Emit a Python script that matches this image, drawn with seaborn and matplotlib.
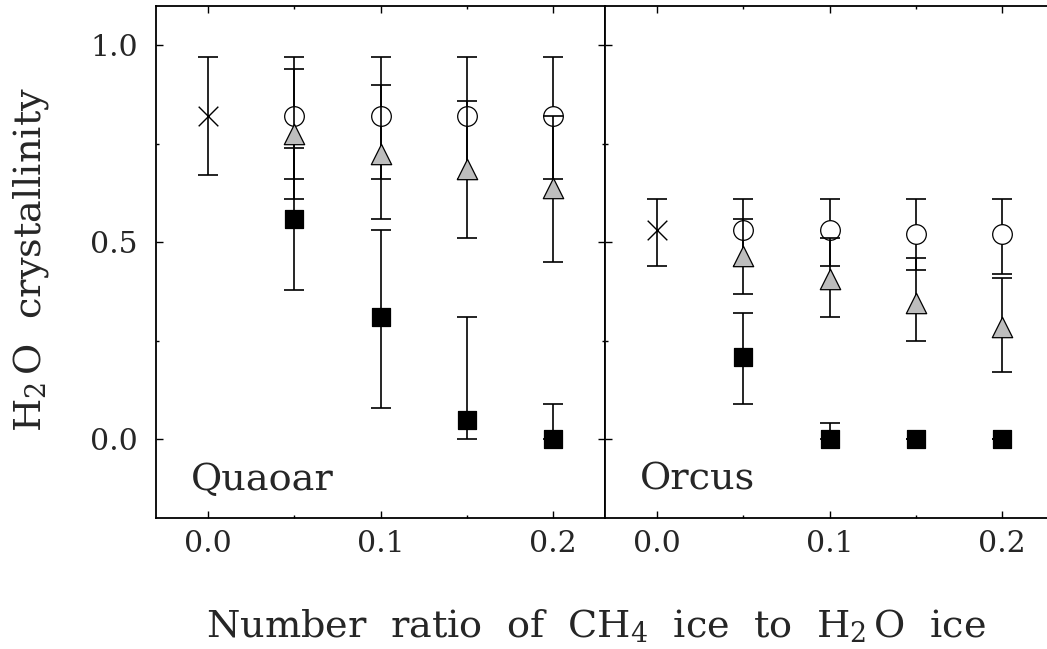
import numpy as np
import pandas as pd
import matplotlib
matplotlib.use("Agg")
import matplotlib.pyplot as plt
import seaborn as sns

# CH4 / H2O number ratio grid
ratio_ref = [0.0]
ratios = [0.05, 0.10, 0.15, 0.20]

# Quaoar: pure-H2O reference point (value, lower, upper)
q_ref = [0.82]
q_ref_lo = [0.67]
q_ref_hi = [0.97]
# Quaoar: three model series (value, lower bound, upper bound)
q_circ = [0.82, 0.82, 0.82, 0.82]
q_circ_lo = [0.66, 0.66, 0.66, 0.66]
q_circ_hi = [0.97, 0.97, 0.97, 0.97]
q_tri = [0.775, 0.725, 0.686, 0.637]
q_tri_lo = [0.61, 0.56, 0.51, 0.45]
q_tri_hi = [0.94, 0.90, 0.86, 0.82]
q_sq = [0.56, 0.31, 0.05, 0.0]
q_sq_lo = [0.38, 0.08, 0.0, 0.0]
q_sq_hi = [0.74, 0.53, 0.31, 0.09]

# Orcus
o_ref = [0.53]
o_ref_lo = [0.44]
o_ref_hi = [0.61]
o_circ = [0.53, 0.53, 0.52, 0.52]
o_circ_lo = [0.44, 0.44, 0.43, 0.42]
o_circ_hi = [0.61, 0.61, 0.61, 0.61]
o_tri = [0.466, 0.406, 0.346, 0.286]
o_tri_lo = [0.37, 0.31, 0.25, 0.17]
o_tri_hi = [0.56, 0.51, 0.46, 0.41]
o_sq = [0.21, 0.0, 0.0, 0.0]
o_sq_lo = [0.09, 0.0, 0.0, 0.0]
o_sq_hi = [0.32, 0.04, 0.0, 0.0]

x_ticks = [0.0, 0.05, 0.10, 0.15, 0.20]
x_labels = ["0.0", "", "0.1", "", "0.2"]
y_ticks = [0.0, 0.25, 0.5, 0.75, 1.0]
y_labels = ["0.0", "", "0.5", "", "1.0"]

sns.set_theme(style="ticks")
plt.rcParams["font.family"] = ["DejaVu Serif"]
plt.rcParams["mathtext.fontset"] = "dejavuserif"

W, H = 1047, 649
fig = plt.figure(figsize=(W / 100, H / 100), dpi=100)
fig.patch.set_facecolor("white")

ax_l, ax_w = 156 / W, 449 / W
ax_b, ax_h = (H - 518) / H, 512 / H
ax1 = fig.add_axes([ax_l, ax_b, ax_w, ax_h])
ax2 = fig.add_axes([ax_l + ax_w, ax_b, ax_w, ax_h])

LW = 1.2
CAP = 7.2


def draw_series(ax, x, y, lo, hi, marker, face, size, zo):
    y = np.asarray(y)
    err = np.vstack([y - np.asarray(lo), np.asarray(hi) - y])
    ax.errorbar(x, y, yerr=err, fmt="none", ecolor="black", elinewidth=LW,
                capsize=CAP, capthick=LW, zorder=zo)
    df = pd.DataFrame({"x": x, "y": y})
    if marker == "x":
        sns.scatterplot(data=df, x="x", y="y", marker="x", color="black",
                        s=size, linewidth=1.0, ax=ax, zorder=zo + 0.5,
                        legend=False)
    else:
        sns.scatterplot(data=df, x="x", y="y", marker=marker, color=face,
                        edgecolor="black", linewidth=0.9, s=size, ax=ax,
                        zorder=zo + 0.5, legend=False)


panels = [
    (ax1, "Quaoar", q_ref, q_ref_lo, q_ref_hi, q_circ, q_circ_lo, q_circ_hi,
     q_tri, q_tri_lo, q_tri_hi, q_sq, q_sq_lo, q_sq_hi),
    (ax2, "Orcus", o_ref, o_ref_lo, o_ref_hi, o_circ, o_circ_lo, o_circ_hi,
     o_tri, o_tri_lo, o_tri_hi, o_sq, o_sq_lo, o_sq_hi),
]

for (ax, name, r, r_lo, r_hi, c, c_lo, c_hi, t, t_lo, t_hi,
     s, s_lo, s_hi) in panels:
    draw_series(ax, ratio_ref, r, r_lo, r_hi, "x", "black", 200, 2)
    draw_series(ax, ratios, s, s_lo, s_hi, "s", "black", 175, 2)
    draw_series(ax, ratios, c, c_lo, c_hi, "o", "white", 200, 3)
    draw_series(ax, ratios, t, t_lo, t_hi, "^", "#bdbdbd", 215, 4)

    ax.set_xlim(-0.03, 0.23)
    ax.set_ylim(-0.2, 1.1)
    ax.set_xticks(x_ticks)
    ax.set_xticklabels(x_labels)
    ax.set_yticks(y_ticks)
    ax.set_yticklabels(y_labels)
    ax.set_xlabel("")
    ax.set_ylabel("")
    ax.tick_params(axis="both", which="major", direction="in", length=5,
                   width=1.0, top=True, right=True, labelsize=21.5,
                   color="black")
    ax.tick_params(axis="x", pad=9)
    ax.tick_params(axis="y", pad=13)
    for sp in ax.spines.values():
        sp.set_visible(True)
        sp.set_linewidth(1.3)
        sp.set_color("black")
    ax.set_facecolor("white")
    ax.text(0.077, 0.055, name, transform=ax.transAxes, fontsize=27.5,
            ha="left", va="baseline")

# shorter ticks at the half steps
for ax in (ax1, ax2):
    for i, tl in enumerate(ax.xaxis.get_major_ticks()):
        if x_labels[i] == "":
            tl.tick1line.set_markersize(2.5)
            tl.tick2line.set_markersize(2.5)
    for i, tl in enumerate(ax.yaxis.get_major_ticks()):
        if y_labels[i] == "":
            tl.tick1line.set_markersize(2.5)
            tl.tick2line.set_markersize(2.5)

ax2.tick_params(axis="y", labelleft=False)

fig.text(596 / W, (H - 637) / H,
         r"Number  ratio  of  CH$_4$  ice  to  H$_2\,$O  ice",
         fontsize=27.5, ha="center", va="baseline")
fig.text(31 / W, (H - 260) / H, r"H$_2\,$O  crystallinity", fontsize=27.5,
         rotation=90, ha="center", va="center")

fig.savefig("out.png", dpi=100, facecolor="white")
